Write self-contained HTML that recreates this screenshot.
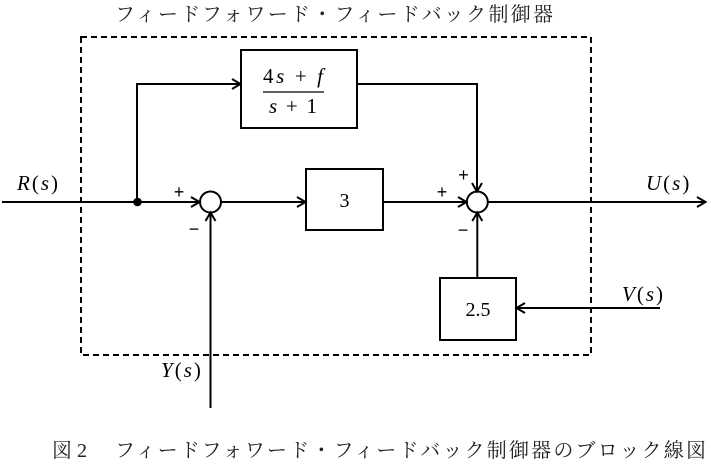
<!DOCTYPE html>
<html><head><meta charset="utf-8">
<style>
html,body{margin:0;padding:0;background:#fff;}
svg{display:block;}
.m{font-family:"Liberation Serif",serif;font-size:21px;fill:#000;letter-spacing:2px;}
.f{font-family:"Liberation Serif",serif;font-size:21px;fill:#000;}
.i{font-style:italic;}
.jp{font-family:"Liberation Serif","Noto Serif CJK SC","Noto Serif CJK JP",serif;font-size:20px;fill:#222;}
.n{font-family:"Liberation Serif",serif;font-size:20px;fill:#000;}
.pm{font-family:"Liberation Sans",sans-serif;font-size:18px;fill:#000;}
</style></head>
<body>
<svg width="711" height="466" viewBox="0 0 711 466" xmlns="http://www.w3.org/2000/svg">
<!-- title -->
<text class="jp" x="115" y="21" textLength="438" lengthAdjust="spacing">フィードフォワード・フィードバック制御器</text>

<!-- dashed box -->
<rect x="81" y="37" width="510" height="318" fill="none" stroke="#000" stroke-width="2" stroke-dasharray="6 4"/>

<g stroke="#000" stroke-width="2" fill="none" stroke-linecap="butt">
  <line x1="2" y1="202" x2="199" y2="202"/>
  <polyline points="191,197 199.5,202 191,207"/>
  <polyline points="137,202 137,84 240,84"/>
  <polyline points="232,79 240.5,84 232,89"/>
  <rect x="241" y="50" width="116" height="78"/>
  <polyline points="357,84 477,84 477,191"/>
  <polyline points="472,183 477,191.5 482,183"/>
  <circle cx="210.5" cy="202" r="10.5"/>
  <line x1="221" y1="202" x2="305" y2="202"/>
  <polyline points="297,197 305.5,202 297,207"/>
  <rect x="306" y="169" width="77" height="61"/>
  <line x1="383" y1="202" x2="466" y2="202"/>
  <polyline points="458,197 466.5,202 458,207"/>
  <circle cx="477.3" cy="202" r="10.5"/>
  <line x1="488" y1="202" x2="705" y2="202"/>
  <polyline points="697,197 705.5,202 697,207"/>
  <line x1="210.5" y1="408" x2="210.5" y2="213"/>
  <polyline points="205.5,221 210.5,212.5 215.5,221"/>
  <rect x="440" y="278" width="76" height="62"/>
  <line x1="477.3" y1="278" x2="477.3" y2="213"/>
  <polyline points="472.3,221 477.3,212.5 482.3,221"/>
  <line x1="660" y1="308" x2="517" y2="308"/>
  <polyline points="525,303 516.5,308 525,313"/>
</g>
<circle cx="137.5" cy="202" r="4.3" fill="#000"/>

<!-- fraction -->
<text class="f" x="263" y="83" textLength="60" lengthAdjust="spacing">4<tspan class="i">s</tspan> + <tspan class="i">f</tspan></text>
<line x1="263" y1="92" x2="324" y2="92" stroke="#000" stroke-width="1.2"/>
<text class="f" x="269" y="113" textLength="48" lengthAdjust="spacing"><tspan class="i">s</tspan> + 1</text>

<text class="n" x="344.5" y="207" text-anchor="middle">3</text>
<text class="n" x="478" y="316" text-anchor="middle">2.5</text>

<!-- signals -->
<text class="m" x="17" y="190"><tspan class="i">R</tspan>(<tspan class="i">s</tspan>)</text>
<text class="m" x="646" y="190"><tspan class="i">U</tspan>(<tspan class="i">s</tspan>)</text>
<text class="m" x="622" y="301"><tspan class="i">V</tspan>(<tspan class="i">s</tspan>)</text>
<text class="m" x="161" y="377"><tspan class="i">Y</tspan>(<tspan class="i">s</tspan>)</text>

<!-- signs -->
<text class="pm" x="179" y="198" text-anchor="middle">+</text>
<text class="pm" x="194" y="235" text-anchor="middle">−</text>
<text class="pm" x="442" y="198" text-anchor="middle">+</text>
<text class="pm" x="463.5" y="181" text-anchor="middle">+</text>
<text class="pm" x="463" y="236" text-anchor="middle">−</text>

<!-- caption -->
<text class="jp" x="52" y="457">図</text>
<text x="77" y="457" style="font-family:'Liberation Serif',serif;font-size:20px;fill:#222">2</text>
<text class="jp" x="115" y="457" textLength="591" lengthAdjust="spacing">フィードフォワード・フィードバック制御器のブロック線図</text>
</svg>
</body></html>
